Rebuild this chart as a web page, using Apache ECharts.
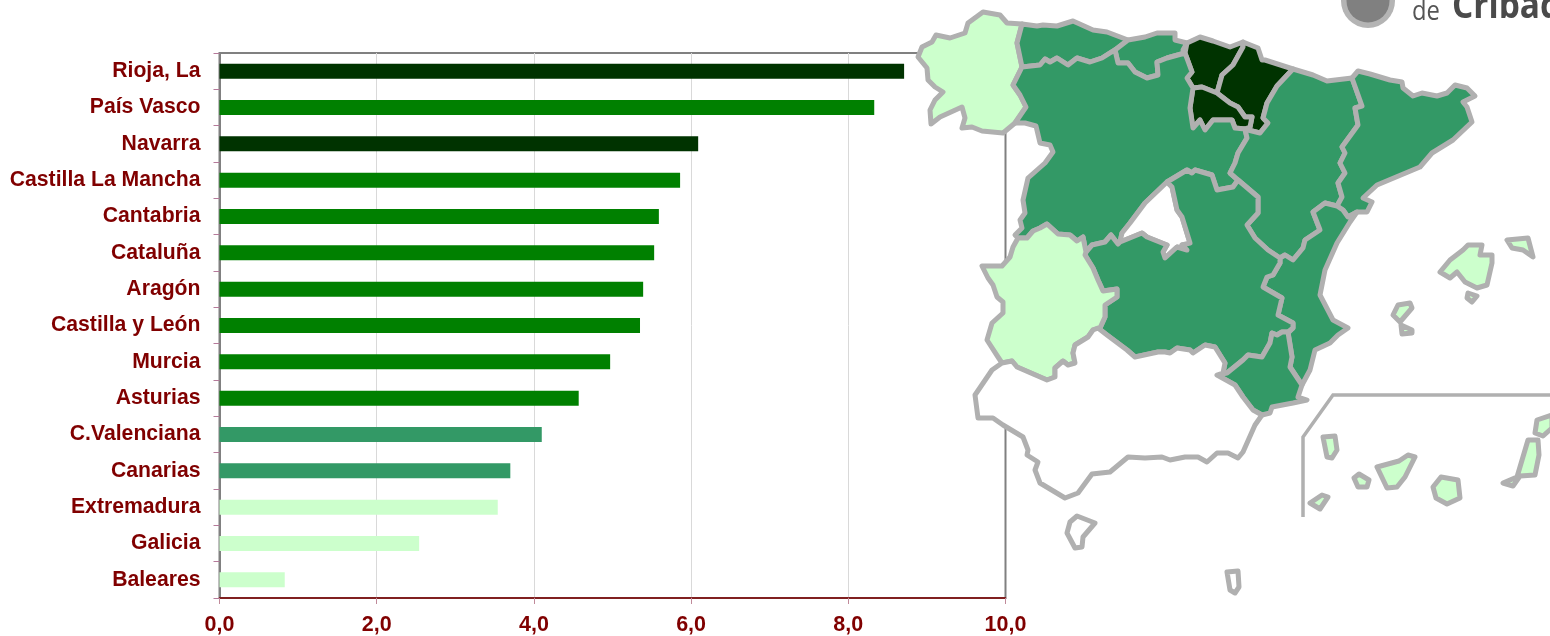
<!DOCTYPE html>
<html>
<head>
<meta charset="utf-8">
<script src="https://cdn.jsdelivr.net/npm/echarts@6/dist/echarts.min.js"></script>
<style>
    html, body { margin: 0; background: #fff; }
    #main { width: 1550px; height: 636px; }
</style>
</head>
<body>
<div id="main"></div>
<script type="text/javascript">
    var categories = ['Rioja, La', 'País Vasco', 'Navarra', 'Castilla La Mancha', 'Cantabria', 'Cataluña', 'Aragón',
        'Castilla y León', 'Murcia', 'Asturias', 'C.Valenciana', 'Canarias', 'Extremadura', 'Galicia', 'Baleares'];
    var values = [8.71, 8.33, 6.09, 5.86, 5.59, 5.53, 5.39, 5.35, 4.97, 4.57, 4.10, 3.70, 3.54, 2.54, 0.83];
    var barColors = ['#003300', '#008000', '#003300', '#008000', '#008000', '#008000', '#008000',
        '#008000', '#008000', '#008000', '#339966', '#339966', '#ccffcc', '#ccffcc', '#ccffcc'];

    // colour of each region on the map
    var regionColors = {
        'Galicia': '#ccffcc', 'Extremadura': '#ccffcc', 'Baleares': '#ccffcc', 'Canarias': '#ccffcc',
        'País Vasco': '#003300', 'Navarra': '#003300', 'Rioja, La': '#003300',
        'Asturias': '#339966', 'Cantabria': '#339966', 'Castilla y León': '#339966', 'Aragón': '#339966',
        'Cataluña': '#339966', 'Castilla La Mancha': '#339966', 'C.Valenciana': '#339966', 'Murcia': '#339966',
        'Andalucía': '#ffffff', 'Madrid': '#ffffff', 'Ceuta': '#ffffff', 'Melilla': '#ffffff'
    };

    // outlines, each region is a list of rings
    var regionShapes = {
        'Galicia': [[[1022,24],[1007,23],[1000,15],[983,12],[968,23],[965,33],[950,38],[936,35],[932,42],[922,47],[918,57],[927,68],[928,80],[935,87],[943,92],[935,100],[930,110],[931,124],[940,117],[962,107],[965,118],[962,128],[972,127],[982,131],[1003,133],[1015,123],[1026,107],[1020,95],[1013,85],[1022,67],[1017,43]]],
        'Asturias': [[[1022,24],[1037,26],[1043,25],[1057,26],[1073,21],[1093,30],[1107,32],[1128,40],[1115,50],[1110,53],[1102,58],[1090,62],[1077,58],[1068,65],[1057,58],[1050,62],[1045,59],[1040,65],[1022,67],[1017,43]]],
        'Cantabria': [[[1128,40],[1145,37],[1157,33],[1175,33],[1175,40],[1187,43],[1183,50],[1185,53],[1167,58],[1157,62],[1158,75],[1147,78],[1135,72],[1128,63],[1118,63],[1115,50]]],
        'País Vasco': [[[1187,43],[1200,37],[1213,41],[1230,47],[1243,42],[1243,47],[1233,65],[1222,75],[1217,93],[1202,87],[1193,88],[1187,78],[1192,72],[1185,53]]],
        'Navarra': [[[1243,42],[1258,48],[1262,60],[1265,60],[1293,69],[1277,86],[1267,103],[1263,118],[1268,123],[1260,133],[1248,130],[1250,127],[1252,117],[1245,117],[1238,107],[1230,103],[1217,93],[1222,75],[1233,65],[1243,47]]],
        'Rioja, La': [[[1193,88],[1202,87],[1217,93],[1230,103],[1238,107],[1245,117],[1252,117],[1250,127],[1245,129],[1235,128],[1232,120],[1213,120],[1205,130],[1200,120],[1193,128],[1190,108]]],
        'Castilla y León': [[[1022,67],[1040,65],[1045,59],[1050,62],[1057,58],[1068,65],[1077,58],[1090,62],[1102,58],[1110,53],[1115,50],[1118,63],[1128,63],[1135,72],[1147,78],[1158,75],[1157,62],[1167,58],[1185,53],[1192,72],[1187,78],[1193,88],[1190,108],[1193,128],[1200,120],[1205,130],[1213,120],[1232,120],[1235,128],[1245,129],[1247,138],[1238,153],[1235,163],[1230,173],[1238,180],[1233,187],[1217,190],[1212,175],[1195,170],[1192,173],[1187,170],[1167,182],[1145,203],[1130,223],[1122,233],[1120,242],[1118,244],[1111,235],[1105,242],[1092,245],[1086,252],[1083,237],[1077,241],[1070,235],[1058,234],[1047,224],[1040,228],[1033,231],[1027,238],[1018,238],[1015,235],[1022,228],[1020,220],[1025,213],[1023,200],[1028,178],[1045,163],[1053,152],[1050,145],[1040,143],[1036,126],[1025,123],[1015,123],[1026,107],[1020,95],[1013,85]]],
        'Madrid': [[[1120,242],[1122,233],[1130,223],[1145,203],[1167,182],[1172,187],[1177,210],[1182,217],[1190,243],[1182,245],[1187,250],[1177,247],[1165,258],[1163,252],[1167,245],[1147,237],[1142,233]]],
        'Aragón': [[[1293,69],[1313,75],[1327,81],[1352,78],[1362,106],[1355,108],[1358,125],[1342,147],[1345,153],[1340,163],[1345,173],[1338,183],[1342,197],[1337,206],[1325,203],[1313,212],[1320,230],[1305,240],[1303,248],[1293,260],[1285,255],[1280,258],[1268,250],[1255,238],[1247,225],[1258,213],[1258,197],[1238,180],[1230,173],[1235,163],[1238,153],[1247,138],[1245,129],[1248,130],[1260,133],[1268,123],[1263,118],[1267,103],[1277,86]]],
        'Cataluña': [[[1352,78],[1358,71],[1370,74],[1390,80],[1402,82],[1403,88],[1413,96],[1422,93],[1437,96],[1447,93],[1455,85],[1467,88],[1475,96],[1463,102],[1467,107],[1472,122],[1453,140],[1432,153],[1420,167],[1377,185],[1363,198],[1372,202],[1367,212],[1357,212],[1348,217],[1343,210],[1337,206],[1342,197],[1338,183],[1345,173],[1340,163],[1345,153],[1342,147],[1358,125],[1355,108],[1362,106]]],
        'C.Valenciana': [[[1337,206],[1343,210],[1348,217],[1357,212],[1350,222],[1337,243],[1325,270],[1320,295],[1333,320],[1348,328],[1338,335],[1330,343],[1315,350],[1310,370],[1302,385],[1290,367],[1292,357],[1288,333],[1293,328],[1293,323],[1278,315],[1282,298],[1263,287],[1267,277],[1273,275],[1280,263],[1280,258],[1285,255],[1293,260],[1303,248],[1305,240],[1320,230],[1313,212],[1325,203]]],
        'Castilla La Mancha': [[[1086,252],[1092,245],[1105,242],[1111,235],[1118,244],[1120,242],[1142,233],[1147,237],[1167,245],[1163,252],[1165,258],[1177,247],[1187,250],[1182,245],[1190,243],[1182,217],[1177,210],[1172,187],[1167,182],[1187,170],[1192,173],[1195,170],[1212,175],[1217,190],[1233,187],[1238,180],[1258,197],[1258,213],[1247,225],[1255,238],[1268,250],[1280,258],[1280,263],[1273,275],[1267,277],[1263,287],[1282,298],[1278,315],[1293,323],[1293,328],[1288,332],[1282,332],[1277,335],[1272,333],[1270,343],[1262,357],[1248,355],[1243,360],[1227,373],[1223,373],[1225,363],[1215,347],[1205,345],[1193,353],[1190,350],[1177,348],[1170,353],[1165,352],[1158,352],[1135,357],[1127,350],[1107,335],[1098,328],[1100,328],[1105,317],[1105,305],[1117,297],[1117,289],[1103,291],[1098,280],[1093,268],[1085,255]]],
        'Extremadura': [[[1018,238],[1027,238],[1033,231],[1040,228],[1047,224],[1058,234],[1070,235],[1077,241],[1083,237],[1086,252],[1085,255],[1093,268],[1098,280],[1103,291],[1117,289],[1117,297],[1105,305],[1105,317],[1100,328],[1093,330],[1088,337],[1075,345],[1073,353],[1075,363],[1068,365],[1063,361],[1055,368],[1055,377],[1047,380],[1017,367],[1012,361],[1002,363],[998,357],[987,340],[992,323],[1003,313],[1003,302],[997,297],[993,285],[988,278],[982,266],[1002,266],[1010,257],[1013,247]]],
        'Murcia': [[[1227,373],[1243,360],[1248,355],[1262,357],[1270,343],[1272,333],[1277,335],[1282,332],[1288,332],[1292,357],[1290,367],[1302,385],[1298,397],[1307,400],[1293,403],[1272,407],[1270,413],[1262,415],[1253,410],[1243,397],[1235,385],[1217,375]]],
        'Andalucía': [[[1002,363],[992,370],[975,395],[978,418],[993,418],[1003,425],[1023,437],[1028,450],[1027,455],[1038,462],[1035,470],[1040,483],[1065,498],[1078,493],[1092,474],[1110,472],[1128,457],[1145,458],[1162,457],[1170,460],[1185,457],[1198,457],[1207,462],[1217,453],[1228,453],[1238,458],[1243,452],[1255,425],[1262,415],[1253,410],[1243,397],[1235,385],[1217,375],[1223,373],[1225,363],[1215,347],[1205,345],[1193,353],[1190,350],[1177,348],[1170,353],[1165,352],[1158,352],[1135,357],[1127,350],[1107,335],[1098,328],[1093,330],[1088,337],[1075,345],[1073,353],[1075,363],[1068,365],[1063,361],[1055,368],[1055,377],[1047,380],[1017,367],[1012,361]]],
        'Ceuta': [[[1077,516],[1095,523],[1083,537],[1082,547],[1075,548],[1067,533],[1070,522]]],
        'Melilla': [[[1227,572],[1238,571],[1239,587],[1235,593],[1230,590]]],
        'Baleares': [
            [[1440,272],[1450,260],[1463,250],[1468,245],[1482,245],[1480,255],[1492,255],[1492,263],[1487,285],[1477,288],[1465,282],[1457,272],[1450,278]],
            [[1507,240],[1528,238],[1533,257],[1523,250],[1512,248]],
            [[1468,293],[1477,296],[1472,302],[1467,298]],
            [[1393,315],[1398,305],[1410,303],[1412,308],[1400,322]],
            [[1401,325],[1412,330],[1412,333],[1402,334]]
        ],
        'Canarias': [
            [[1323,437],[1335,436],[1337,450],[1332,458],[1327,457]],
            [[1310,503],[1322,495],[1328,497],[1320,509]],
            [[1354,478],[1359,474],[1369,480],[1367,487],[1358,487]],
            [[1377,467],[1399,461],[1408,455],[1415,457],[1405,477],[1397,487],[1387,488]],
            [[1441,477],[1458,480],[1460,498],[1447,504],[1436,498],[1433,487]],
            [[1503,483],[1517,477],[1528,440],[1538,440],[1539,455],[1535,475],[1520,476],[1513,486]],
            [[1537,420],[1552,415],[1552,428],[1543,436],[1535,433]]
        ]
    };

    var features = Object.keys(regionShapes).map(function (name) {
        return {
            type: 'Feature',
            properties: { name: name },
            geometry: {
                type: 'MultiPolygon',
                coordinates: regionShapes[name].map(function (ring) {
                    return [ring.map(function (p) { return [p[0], -p[1]]; })];
                })
            }
        };
    });
    echarts.registerMap('espana', { type: 'FeatureCollection', features: features });

    var myChart = echarts.init(document.getElementById('main'));
    var textColor = '#800000';
    var textFont = '"Liberation Sans", Arial, sans-serif';

    var option = {
        animation: false,
        grid: {
            left: 219.5, right: 544.5, top: 53, bottom: 38,
            show: true, borderColor: '#808080', borderWidth: 2, backgroundColor: 'transparent'
        },
        xAxis: {
            type: 'value', min: 0, max: 10, interval: 2,
            axisLine: { show: true, lineStyle: { color: textColor, width: 1.5 } },
            axisTick: { show: true, length: 6, lineStyle: { color: '#c08a9a', width: 1 } },
            splitLine: { show: true, showMinLine: false, showMaxLine: false, lineStyle: { color: '#d9d9d9', width: 1 } },
            axisLabel: {
                color: textColor, fontWeight: 'bold', fontSize: 21.5, fontFamily: textFont, margin: 16,
                formatter: function (v) { return v.toFixed(1).replace('.', ','); }
            }
        },
        yAxis: {
            type: 'category', inverse: true, data: categories,
            axisLine: { show: true, lineStyle: { color: '#808080', width: 2 } },
            axisTick: { show: true, length: 6, lineStyle: { color: '#b57a9a', width: 1 } },
            axisLabel: { color: textColor, fontWeight: 'bold', fontSize: 21.2, fontFamily: textFont, margin: 19, padding: [4, 0, 0, 0] }
        },
        geo: {
            map: 'espana', silent: true, roam: false, aspectScale: 1,
            boundingCoords: [[0, 0], [1550, -636]],
            left: 0, top: 0, right: 0, bottom: 0, z: 3,
            label: { show: false },
            itemStyle: { areaColor: '#fff', borderColor: '#b0b0b0', borderWidth: 5, borderJoin: 'round' },
            regions: Object.keys(regionColors).map(function (name) {
                return { name: name, itemStyle: { areaColor: regionColors[name] } };
            })
        },
        series: [{
            type: 'bar', barWidth: 15, silent: true, z: 2,
            data: values.map(function (v, i) {
                return { value: v, itemStyle: { color: barColors[i] } };
            })
        }],
        graphic: [
            // frame of the Canarias inset
            { type: 'polyline', z: 10, silent: true,
              shape: { points: [[1303, 517], [1303, 437], [1333, 395], [1552, 395]] },
              style: { stroke: '#b0b0b0', lineWidth: 3.5, fill: null } },
            // logo cut off at the top right
            { type: 'circle', z: 10, silent: true, shape: { cx: 1368, cy: 1, r: 27 }, style: { fill: '#b4b4b4' } },
            { type: 'circle', z: 10, silent: true, shape: { cx: 1368, cy: 1, r: 21.5 }, style: { fill: '#808080' } },
            { type: 'text', z: 10, silent: true, x: 1412, y: 26, scaleX: 0.85,
              style: { text: 'de', fill: '#555', font: '28px "Open Sans"', textVerticalAlign: 'bottom' } },
            { type: 'text', z: 10, silent: true, x: 1452, y: 26, scaleX: 0.88,
              style: { text: 'Cribado', fill: '#4a4a4a', font: 'bold 38px "Open Sans"', textVerticalAlign: 'bottom' } }
        ]
    };

    myChart.setOption(option);
</script>
</body>
</html>
